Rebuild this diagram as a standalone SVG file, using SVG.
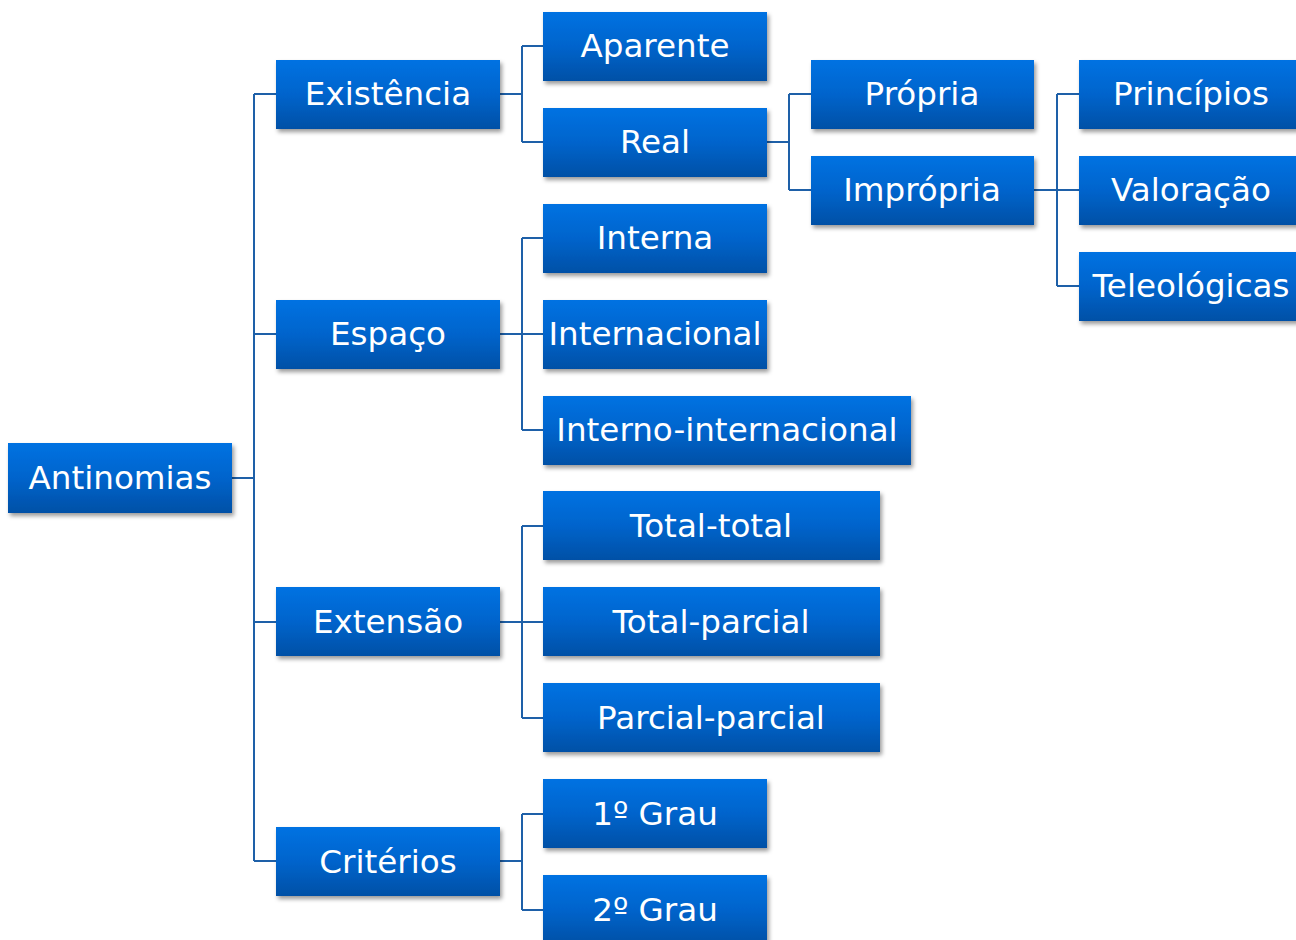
<svg xmlns="http://www.w3.org/2000/svg" width="1296" height="940" viewBox="0 0 1296 940">
<defs>
<linearGradient id="g" x1="0" y1="0" x2="0" y2="1">
<stop offset="0" stop-color="#0072E2"/>
<stop offset="0.5" stop-color="#0064CC"/>
<stop offset="1" stop-color="#0050A6"/>
</linearGradient>
<filter id="sh" x="-10%" y="-10%" width="125%" height="140%">
<feDropShadow dx="2" dy="3" stdDeviation="2" flood-color="#000" flood-opacity="0.4"/>
</filter>
</defs>
<style>
.b rect{fill:url(#g);filter:url(#sh)}
.b text{fill:#fff;font-family:"DejaVu Sans",Verdana,sans-serif;font-size:32.6px;text-anchor:middle}
.c{fill:none;stroke:#1E60A8;stroke-width:2}
</style>
<rect width="1296" height="940" fill="#fff"/>
<g id="connectors" class="c">
<path d="M232 478H254M254 94V861M254 94H276M254 334H276M254 622H276M254 861H276"/>
<path d="M500 94H522M522 46V142M522 46H543M522 142H543"/>
<path d="M767 142H789M789 94V190M789 94H811M789 190H811"/>
<path d="M1034 190H1057M1057 94V286M1057 94H1079M1057 190H1079M1057 286H1079"/>
<path d="M500 334H522M522 238V430M522 238H543M522 334H543M522 430H543"/>
<path d="M500 622H522M522 526V718M522 526H543M522 622H543M522 718H543"/>
<path d="M500 861H522M522 814V910M522 814H543M522 910H543"/>
</g>
<g id="antinomias" class="b"><rect x="8" y="443" width="224" height="70"/><text x="120" y="489">Antinomias</text></g>
<g id="existencia" class="b"><rect x="276" y="60" width="224" height="69"/><text x="388" y="105">Existência</text></g>
<g id="espaco" class="b"><rect x="276" y="300" width="224" height="69"/><text x="388" y="345">Espaço</text></g>
<g id="extensao" class="b"><rect x="276" y="587" width="224" height="69"/><text x="388" y="633">Extensão</text></g>
<g id="criterios" class="b"><rect x="276" y="827" width="224" height="69"/><text x="388" y="873">Critérios</text></g>
<g id="aparente" class="b"><rect x="543" y="12" width="224" height="69"/><text x="655" y="57">Aparente</text></g>
<g id="real" class="b"><rect x="543" y="108" width="224" height="69"/><text x="655" y="153">Real</text></g>
<g id="interna" class="b"><rect x="543" y="204" width="224" height="69"/><text x="655" y="249">Interna</text></g>
<g id="internacional" class="b"><rect x="543" y="300" width="224" height="69"/><text x="655" y="345">Internacional</text></g>
<g id="interno-internacional" class="b"><rect x="543" y="396" width="368" height="69"/><text x="727" y="441">Interno-internacional</text></g>
<g id="total-total" class="b"><rect x="543" y="491" width="337" height="69"/><text x="711" y="537">Total-total</text></g>
<g id="total-parcial" class="b"><rect x="543" y="587" width="337" height="69"/><text x="711" y="633">Total-parcial</text></g>
<g id="parcial-parcial" class="b"><rect x="543" y="683" width="337" height="69"/><text x="711" y="729">Parcial-parcial</text></g>
<g id="grau1" class="b"><rect x="543" y="779" width="224" height="69"/><text x="655" y="825">1º Grau</text></g>
<g id="grau2" class="b"><rect x="543" y="875" width="224" height="69"/><text x="655" y="921">2º Grau</text></g>
<g id="propria" class="b"><rect x="811" y="60" width="223" height="69"/><text x="922" y="105">Própria</text></g>
<g id="impropria" class="b"><rect x="811" y="156" width="223" height="69"/><text x="922" y="201">Imprópria</text></g>
<g id="principios" class="b"><rect x="1079" y="60" width="224" height="69"/><text x="1191" y="105">Princípios</text></g>
<g id="valoracao" class="b"><rect x="1079" y="156" width="224" height="69"/><text x="1191" y="201">Valoração</text></g>
<g id="teleologicas" class="b"><rect x="1079" y="252" width="224" height="69"/><text x="1191" y="297">Teleológicas</text></g>
</svg>
